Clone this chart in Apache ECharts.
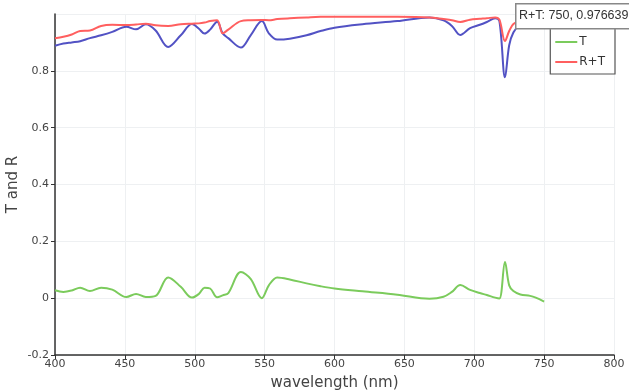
<!DOCTYPE html>
<html>
<head>
<meta charset="utf-8">
<script src="https://cdn.jsdelivr.net/npm/echarts@6/dist/echarts.min.js"></script>
<style>
  html, body { margin: 0; padding: 0; background: #fff; }
  #chart { width: 629px; height: 392px; }
</style>
</head>
<body>
<div id="chart"></div>
<script>
// wavelength (nm) samples
const wavelengths = [400, 406, 412, 418, 425, 433, 441, 451, 458, 465, 472, 481, 490, 498, 503, 507, 511, 516, 520, 524,
  533, 540, 548, 553, 559, 568, 580, 590, 600, 620, 645, 668, 678, 684, 690, 697, 704, 709, 715, 718,
  722, 725, 728, 733, 740, 744, 750]
const reflect = [0.888, 0.896, 0.900, 0.904, 0.915, 0.925, 0.937, 0.955, 0.946, 0.964, 0.942, 0.884, 0.925, 0.965, 0.948, 0.931, 0.945, 0.973, 0.932, 0.915,
  0.882, 0.925, 0.975, 0.932, 0.910, 0.913, 0.925, 0.940, 0.952, 0.964, 0.975, 0.988, 0.978, 0.958, 0.926, 0.950, 0.962, 0.972, 0.985, 0.975,
  0.777, 0.890, 0.935, 0.965, 0.985, 0.990, 0.989]
const transmit = [0.028, 0.022, 0.027, 0.037, 0.025, 0.037, 0.030, 0.004, 0.015, 0.004, 0.008, 0.073, 0.040, 0.002, 0.015, 0.037, 0.034, 0.003, 0.010, 0.018,
  0.092, 0.068, 0.000, 0.045, 0.073, 0.066, 0.052, 0.042, 0.034, 0.024, 0.012, -0.002, 0.005, 0.022, 0.046, 0.029, 0.018, 0.011, 0.002, -0.001,
  0.127, 0.045, 0.025, 0.013, 0.008, 0.002, -0.012]
const total = [0.915, 0.920, 0.928, 0.940, 0.942, 0.958, 0.962, 0.961, 0.963, 0.966, 0.960, 0.958, 0.964, 0.966, 0.967, 0.970, 0.975, 0.978, 0.932, 0.945,
  0.975, 0.978, 0.979, 0.978, 0.982, 0.985, 0.988, 0.990, 0.990, 0.990, 0.990, 0.988, 0.982, 0.978, 0.972, 0.980, 0.983, 0.985, 0.988, 0.980,
  0.905, 0.940, 0.965, 0.975, 0.982, 0.985, 0.976639]
const seriesNames = ['R', 'T', 'R+T']
const seriesColors = ['#5252c4', '#7bcb5c', '#ff5f5f']
const hoverText = 'R+T: 750, 0.976639'

const chart = echarts.init(document.getElementById('chart'))

const pairs = arr => wavelengths.map((w, i) => [w, arr[i]])
const lines = [reflect, transmit, total].map((arr, i) => ({
  name: seriesNames[i],
  type: 'line',
  data: pairs(arr),
  smooth: 0.35,
  showSymbol: false,
  lineStyle: { width: 2, color: seriesColors[i] },
  itemStyle: { color: seriesColors[i] }
}))

chart.setOption({
  animation: false,
  textStyle: { fontFamily: 'DejaVu Sans, sans-serif' },
  grid: { left: 55, right: 15, top: 14, bottom: 37, outerBoundsMode: 'none' },
  xAxis: {
    type: 'value',
    min: 400,
    max: 800,
    interval: 50,
    name: 'wavelength (nm)',
    nameLocation: 'middle',
    nameGap: 21,
    nameTextStyle: { fontSize: 15, color: '#444' },
    axisLine: { onZero: false, lineStyle: { color: '#333', width: 1.5 } },
    axisTick: { length: 4, lineStyle: { color: '#333' } },
    axisLabel: { color: '#444', fontSize: 11, margin: 4 },
    splitLine: { lineStyle: { color: '#eef0f2' } }
  },
  yAxis: {
    type: 'value',
    min: -0.2,
    max: 1,
    interval: 0.2,
    name: 'T and R',
    nameLocation: 'middle',
    nameGap: 34,
    nameMoveOverlap: false,
    nameTextStyle: { fontSize: 15, color: '#444' },
    axisLine: { show: true, lineStyle: { color: '#333', width: 1.5 } },
    axisTick: { show: true, length: 4, lineStyle: { color: '#333' } },
    axisLabel: { color: '#444', fontSize: 11, margin: 6, showMaxLabel: false },
    splitLine: { lineStyle: { color: '#eef0f2' } }
  },
  legend: {
    orient: 'vertical',
    right: 14,
    top: 10,
    padding: [6, 10, 6, 5],
    itemGap: 8,
    itemWidth: 22,
    itemHeight: 13,
    borderColor: '#555',
    borderWidth: 1.2,
    backgroundColor: '#fff',
    textStyle: { fontSize: 12, color: '#333', padding: [0, 0, 0, -3] },
    data: seriesNames.map((n, i) => ({ name: n, itemStyle: { color: seriesColors[i] }, icon: 'path://M0,6 L22,6 L22,8 L0,8 Z' }))
  },
  graphic: [
    {
      type: 'rect',
      left: 515,
      top: 3,
      z: 200,
      zlevel: 1,
      shape: { width: 130, height: 25 },
      style: { fill: '#fff', stroke: '#888', lineWidth: 1.5 }
    },
    {
      type: 'text',
      left: 519,
      top: 9,
      z: 201,
      zlevel: 1,
      style: { text: hoverText, font: '12.5px Liberation Sans, sans-serif', fill: '#333' }
    }
  ],
  series: lines
})
</script>
</body>
</html>
